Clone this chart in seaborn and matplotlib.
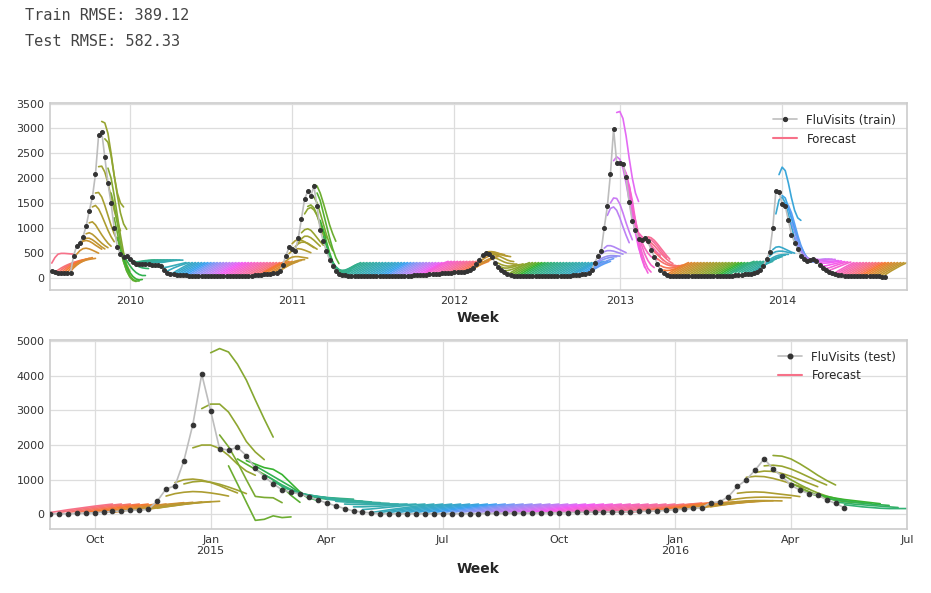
# Import libraries for data analysis
import pandas as pd

# Import libraries for visualization
import matplotlib
matplotlib.use("Agg")
import matplotlib.pyplot as plt
from matplotlib.lines import Line2D
import seaborn as sns

sns.set_theme(style="whitegrid")

# Weekly flu visits, train: weeks from 2009-07-06, test: weeks from 2014-08-25
train_visits = [
    # 2009 season
    140, 110, 90, 90, 90, 95, 100, 440, 640, 700, 820, 1030, 1340, 1610, 2080, 2860, 2930, 2420,
    1900, 1490, 990, 620, 470, 420, 430, 370, 320, 280,
    # 2010
    280, 270, 270, 265, 260, 255, 250, 222, 155, 100, 80, 70, 60, 54, 48, 44, 40,
    38, 36, 34, 33, 32, 30, 30, 28, 28, 27, 27, 26, 27, 28, 28, 30, 32, 34, 36,
    40, 45, 50, 55, 62, 70, 78, 88, 100, 121, 260,
    # 2011
    437, 605, 570, 537, 800, 1183, 1580, 1733, 1645, 1834, 1430, 961, 726, 527, 357, 222, 121, 80, 55, 45,
    38, 36, 35, 34, 33, 32, 30, 30, 29, 28, 28, 27, 27, 28, 28, 29, 30, 32, 34, 36, 38, 42, 46, 50, 55, 60,
    65, 70, 75, 80, 85, 90, 95, 100,
    # 2012
    105, 110, 115, 120, 130, 150, 200, 270, 360, 460, 490, 470, 420, 290, 220, 150, 110, 70, 50,
    40, 38, 36, 34, 32, 30, 30, 28, 27, 27, 26, 26, 27, 28, 29, 30, 32, 34, 38, 42, 48, 55, 65,
    80, 100, 150, 300, 437, 525, 1000, 1430, 2090, 2990,
    # 2013
    2310, 2300, 2280, 2020, 1510, 1130, 950, 780, 760, 800, 730, 560, 420, 280, 160, 90, 55, 40,
    35, 32, 30, 28, 27, 26, 25, 25, 24, 24, 25, 25, 26, 27, 28, 30, 32, 34, 37, 40, 44, 50, 56, 62, 70, 80,
    95, 120, 160, 230, 370, 510, 990, 1750,
    # 2014
    1720, 1480, 1440, 1150, 860, 700, 570, 440, 370, 340, 350, 370, 330, 260, 190, 150, 120, 90, 74, 60, 50, 40,
    35, 30, 28, 26, 25, 24, 24, 23, 22, 22, 21, 20, 20,
]

test_visits = [
    19, 20, 20, 29, 39, 49, 68, 87, 97, 117, 126, 145,
    380, 735, 825, 1550, 2590, 4040, 2985, 1890, 1860, 1930, 1695, 1325, 1087, 885, 710, 640, 590,
    500, 420, 330, 250, 170, 100, 68, 45, 22,
    20, 19, 19, 20, 20, 21, 21, 22, 22, 23, 24,
    28, 29, 30, 36, 38, 40, 45, 48, 50, 55, 58, 62, 66,
    70, 72, 75, 80, 87, 95, 98, 120, 140, 150, 175, 194,
    340, 359, 515, 806, 1000, 1282, 1602, 1311, 1097, 845, 700, 602, 563, 418, 320, 194,
]

# 8-week forecasts; key = first forecast week (index into the weekly series)
# Off-season forecasts all look alike on the chart: a climb back towards ~300
offseason_ramp = [55, 95, 135, 170, 205, 240, 270, 300]
late_ramp = [100, 140, 175, 210, 245, 275, 300, 325]
plateau_2010 = [300, 310, 320, 330, 340, 345, 350, 350]

train_forecasts = {
    0: [290, 400, 470, 485, 485, 480, 475, 470],
    1: [100, 150, 190, 225, 255, 280, 300, 320],
    2: [95, 150, 195, 235, 270, 300, 320, 340],
    3: [95, 155, 205, 250, 285, 315, 340, 355],
    4: [100, 165, 220, 265, 300, 330, 355, 370],
    5: [110, 180, 235, 280, 315, 345, 370, 385],
    6: [120, 195, 250, 295, 330, 360, 385, 400],
    7: [200, 260, 300, 330, 350, 365, 375, 385],
    8: [470, 540, 580, 590, 575, 550, 520, 490],
    9: [680, 730, 745, 730, 695, 650, 610, 570],
    10: [750, 790, 790, 760, 715, 665, 615, 575],
    11: [880, 900, 870, 815, 750, 690, 640, 600],
    12: [1100, 1120, 1060, 960, 860, 770, 690, 630],
    13: [1420, 1450, 1380, 1250, 1100, 950, 820, 720],
    14: [1700, 1710, 1620, 1450, 1250, 1050, 880, 750],
    15: [2230, 2240, 2120, 1900, 1620, 1350, 1120, 940],
    16: [3140, 3110, 2900, 2500, 2050, 1700, 1500, 1420],
    17: [2790, 2720, 2450, 2050, 1650, 1300, 1080, 970],
    18: [2200, 2000, 1650, 1250, 850, 500, 260, 120],
    19: [1700, 1450, 1100, 700, 400, 180, 40, -40],
    20: [1200, 900, 580, 320, 130, 10, -60, -80],
    21: [800, 560, 320, 140, 20, -40, -70, -70],
    22: [540, 370, 220, 100, 20, -30, -50, -40],
    23: [450, 340, 240, 160, 100, 60, 40, 40],
    24: [430, 360, 300, 250, 215, 195, 185, 180],
    25: [390, 345, 310, 285, 270, 260, 258, 258],
    36: [200, 210, 225, 240, 255, 270, 285, 300],
    37: [130, 160, 190, 215, 240, 260, 280, 300],
    73: [140, 180, 220, 255, 285, 310, 330, 345],
    74: [180, 230, 270, 300, 325, 345, 355, 360],
    75: [330, 380, 410, 420, 420, 410, 400, 390],
    76: [480, 540, 570, 580, 570, 550, 525, 500],
    77: [680, 740, 760, 750, 720, 680, 640, 600],
    78: [620, 680, 710, 710, 690, 650, 610, 570],
    79: [700, 780, 830, 830, 800, 750, 690, 630],
    80: [900, 960, 980, 950, 880, 800, 720, 650],
    81: [1280, 1380, 1410, 1360, 1250, 1100, 940, 800],
    82: [1430, 1460, 1400, 1250, 1050, 850, 650, 480],
    83: [1640, 1620, 1500, 1300, 1080, 860, 680, 540],
    84: [1870, 1840, 1700, 1500, 1280, 1060, 880, 730],
    85: [1700, 1550, 1300, 1050, 800, 580, 400, 280],
    86: [1150, 950, 720, 500, 320, 190, 110, 80],
    87: [820, 640, 460, 310, 190, 110, 70, 60],
    88: [560, 420, 300, 200, 130, 90, 80, 90],
    89: [400, 300, 220, 160, 120, 110, 120, 140],
    90: [260, 200, 160, 140, 140, 160, 185, 215],
    91: [160, 140, 140, 150, 175, 205, 240, 270],
    134: [150, 190, 230, 270, 300, 330, 350, 370],
    135: [170, 210, 250, 290, 320, 350, 370, 390],
    136: [210, 260, 300, 340, 370, 390, 410, 420],
    137: [300, 360, 400, 430, 450, 460, 460, 460],
    138: [400, 450, 480, 490, 490, 480, 470, 460],
    139: [500, 520, 520, 510, 490, 470, 450, 430],
    140: [500, 510, 500, 480, 460, 440, 430, 420],
    141: [470, 460, 440, 410, 380, 350, 330, 320],
    142: [400, 370, 340, 310, 290, 280, 270, 270],
    143: [290, 260, 240, 230, 230, 240, 250, 260],
    144: [210, 190, 190, 200, 215, 235, 255, 275],
    145: [140, 140, 155, 175, 200, 225, 250, 275],
    173: [150, 200, 240, 280, 310, 340, 360, 380],
    174: [250, 300, 340, 370, 390, 405, 415, 420],
    175: [330, 380, 410, 430, 440, 440, 435, 430],
    176: [470, 520, 540, 540, 530, 510, 490, 470],
    177: [590, 640, 640, 620, 590, 560, 530, 500],
    178: [1250, 1390, 1420, 1350, 1200, 1020, 850, 700],
    179: [1500, 1600, 1590, 1480, 1300, 1100, 920, 760],
    180: [2350, 2430, 2380, 2200, 1900, 1550, 1200, 900],
    181: [3320, 3340, 3200, 2850, 2400, 2000, 1700, 1530],
    182: [2300, 2250, 2000, 1650, 1250, 900, 600, 400],
    183: [2250, 2100, 1800, 1400, 1000, 650, 380, 200],
    184: [2100, 1850, 1450, 1050, 700, 420, 220, 90],
    185: [1850, 1550, 1150, 800, 520, 320, 180, 110],
    186: [1400, 1150, 880, 650, 470, 340, 250, 200],
    187: [1050, 880, 720, 590, 490, 420, 380, 360],
    188: [900, 830, 760, 690, 620, 560, 500, 450],
    189: [810, 780, 720, 650, 570, 490, 410, 340],
    190: [780, 790, 760, 700, 630, 550, 470, 400],
    191: [820, 800, 750, 680, 600, 520, 440, 370],
    192: [700, 640, 570, 500, 430, 370, 320, 280],
    193: [520, 460, 400, 350, 300, 270, 250, 240],
    194: [380, 330, 290, 260, 240, 230, 230, 240],
    195: [240, 210, 195, 190, 195, 210, 230, 250],
    196: [150, 140, 145, 160, 180, 205, 230, 255],
    225: [120, 170, 210, 250, 290, 320, 350, 370],
    226: [150, 200, 240, 280, 320, 350, 380, 400],
    227: [180, 230, 280, 320, 350, 380, 400, 420],
    228: [230, 280, 330, 370, 400, 420, 440, 450],
    229: [300, 360, 400, 430, 450, 460, 465, 465],
    230: [430, 490, 520, 530, 530, 520, 505, 490],
    231: [560, 610, 620, 600, 570, 540, 510, 490],
    232: [1280, 1560, 1620, 1500, 1280, 1020, 790, 600],
    233: [2070, 2220, 2150, 1900, 1600, 1350, 1200, 1150],
    234: [1650, 1600, 1420, 1200, 980, 780, 620, 500],
    235: [1500, 1400, 1200, 980, 780, 610, 480, 400],
    236: [1450, 1300, 1080, 850, 650, 500, 400, 340],
    237: [1100, 920, 740, 580, 460, 380, 330, 310],
    238: [820, 680, 550, 450, 380, 340, 320, 320],
    239: [650, 550, 460, 400, 360, 340, 330, 330],
    240: [520, 450, 400, 370, 350, 340, 340, 345],
    241: [420, 390, 370, 360, 360, 360, 365, 370],
    242: [380, 360, 350, 350, 355, 360, 365, 370],
    243: [370, 360, 355, 355, 360, 365, 370, 370],
    244: [380, 365, 355, 350, 350, 355, 360, 365],
    245: [360, 340, 330, 325, 325, 330, 335, 340],
    246: [300, 290, 290, 295, 305, 315, 325, 335],
    247: [230, 235, 250, 265, 280, 295, 310, 320],
    248: [180, 195, 215, 240, 260, 280, 300, 315],
    249: [140, 165, 190, 215, 240, 265, 290, 310],
}
for origin in range(26, 36):
    train_forecasts[origin] = plateau_2010
for origin in list(range(68, 73)) + list(range(120, 134)) + list(range(168, 173)) + list(range(218, 225)):
    train_forecasts[origin] = late_ramp

test_forecasts = {
    8: [110, 150, 190, 225, 260, 290, 315, 340],
    9: [120, 160, 200, 235, 270, 300, 325, 350],
    10: [130, 170, 210, 245, 280, 310, 335, 360],
    11: [150, 190, 225, 260, 295, 325, 350, 370],
    12: [180, 220, 255, 290, 320, 345, 365, 380],
    13: [530, 600, 640, 660, 650, 620, 580, 530],
    14: [920, 1000, 1020, 990, 920, 830, 720, 620],
    15: [880, 940, 960, 930, 870, 790, 700, 600],
    16: [1920, 2000, 2000, 1900, 1700, 1450, 1250, 1130],
    17: [3050, 3180, 3180, 2950, 2550, 2100, 1800, 1580],
    18: [4660, 4780, 4680, 4330, 3870, 3300, 2750, 2230],
    19: [2290, 1950, 1500, 1000, 520, 490, 480, 340],
    20: [1400, 880, 350, -170, -140, -40, -90, -70],
    21: [1600, 1450, 1300, 1150, 1000, 800, 550, 350],
    22: [1550, 1450, 1350, 1300, 1150, 900, 650, 450],
    23: [1400, 1250, 1100, 950, 800, 620, 480, 400],
    24: [1150, 1000, 850, 720, 620, 540, 480, 440],
    25: [950, 820, 700, 610, 540, 490, 460, 440],
    26: [800, 700, 620, 560, 510, 480, 460, 440],
    27: [680, 610, 560, 520, 490, 470, 455, 440],
    28: [600, 550, 510, 480, 450, 420, 400, 380],
    29: [560, 520, 480, 450, 420, 400, 380, 360],
    30: [500, 470, 440, 410, 390, 370, 350, 340],
    31: [440, 410, 390, 370, 350, 340, 330, 320],
    32: [380, 360, 340, 330, 320, 310, 305, 300],
    33: [300, 290, 285, 285, 285, 290, 295, 300],
    34: [220, 220, 230, 240, 255, 270, 285, 300],
    35: [140, 160, 185, 210, 235, 260, 280, 300],
    66: [100, 140, 180, 215, 250, 280, 305, 330],
    67: [110, 150, 190, 225, 260, 290, 315, 340],
    68: [115, 160, 200, 235, 270, 300, 325, 350],
    69: [120, 165, 205, 245, 280, 310, 335, 355],
    70: [150, 190, 225, 260, 290, 320, 345, 365],
    71: [160, 200, 235, 270, 300, 330, 355, 375],
    72: [170, 210, 250, 285, 315, 340, 360, 380],
    73: [190, 230, 270, 300, 330, 355, 375, 390],
    74: [220, 260, 295, 325, 350, 370, 385, 395],
    75: [300, 340, 370, 390, 400, 400, 395, 390],
    76: [410, 450, 480, 495, 500, 495, 490, 480],
    77: [610, 640, 650, 640, 610, 580, 550, 515],
    78: [1070, 1100, 1090, 1040, 970, 890, 810, 740],
    79: [1210, 1250, 1240, 1180, 1100, 1000, 900, 800],
    80: [1400, 1420, 1390, 1310, 1200, 1080, 960, 850],
    81: [1700, 1680, 1600, 1460, 1300, 1130, 980, 850],
    82: [1150, 1000, 860, 730, 620, 530, 460, 410],
    83: [900, 780, 660, 560, 480, 420, 380, 350],
    84: [720, 620, 540, 470, 420, 380, 360, 340],
    85: [620, 540, 470, 420, 380, 350, 330, 320],
    86: [580, 520, 470, 430, 400, 370, 340, 310],
    87: [460, 420, 390, 360, 330, 300, 280, 260],
    88: [360, 330, 300, 280, 260, 240, 220, 200],
    89: [280, 250, 220, 200, 180, 170, 170, 170],
}

train_start = "2009-07-06"
test_start = "2014-08-25"

# Tick positions = the week holding the 1st of the year / quarter
train_tick_weeks = ["2009-12-28", "2010-12-27", "2011-12-26", "2012-12-31", "2013-12-30"]
train_tick_labels = ["2010", "2011", "2012", "2013", "2014"]
test_tick_weeks = ["2014-09-29", "2014-12-29", "2015-03-30", "2015-06-29",
                   "2015-09-28", "2015-12-28", "2016-03-28", "2016-06-27"]
test_tick_labels = ["Oct", "Jan\n2015", "Apr", "Jul", "Oct", "Jan\n2016", "Apr", "Jul"]

rmse_lines = ["Train RMSE: 389.12", "Test RMSE: 582.33"]

HUSL = sns.color_palette("husl", 64)
HORIZON = 8


def forecast_frame(weeks, visits, forecasts):
    """
    Long table of every 8-week forecast, one line per forecast origin
    """
    rows = []
    for origin in range(len(visits)):
        values = forecasts.get(origin, offseason_ramp)
        for step in range(HORIZON):
            rows.append({"Week": weeks[origin + step], "FluVisits": values[step], "origin": origin})
    return pd.DataFrame(rows)


def draw_panel(ax, start, visits, forecasts, label, ticks, tick_labels, y_ticks, marker_size, lead_days):
    weeks = pd.date_range(start, periods=len(visits) + HORIZON - 1, freq="7D")
    fc = forecast_frame(weeks, visits, forecasts)
    palette = {o: HUSL[o % 64] for o in fc["origin"].unique()}

    sns.lineplot(data=fc, x="Week", y="FluVisits", hue="origin", palette=palette,
                 estimator=None, legend=False, linewidth=1.2, ax=ax)
    sns.lineplot(x=weeks[:len(visits)], y=visits, color="#bdbdbd", linewidth=1.2,
                 marker="o", markersize=marker_size, markerfacecolor="#333333",
                 markeredgecolor="#333333", zorder=5, ax=ax)

    ax.set_xlim(weeks[0] - pd.Timedelta(days=lead_days), weeks[-1])
    ax.set_xticks(pd.to_datetime(ticks))
    ax.set_xticklabels(tick_labels)
    ax.set_yticks(y_ticks)
    ax.set_ylabel("")
    ax.set_xlabel("Week", fontweight="bold", fontsize=10, color="#262626")
    ax.tick_params(labelsize=8, colors="#333333", length=0, pad=4)
    ax.grid(color="#dddddd", linewidth=0.9)
    for spine in ax.spines.values():
        spine.set_color("#cccccc")
        spine.set_linewidth(1.2)

    handles = [Line2D([], [], color="#bdbdbd", linewidth=1.2, marker="o", markersize=marker_size,
                      markerfacecolor="#333333", markeredgecolor="#333333"),
               Line2D([], [], color=HUSL[0], linewidth=1.5)]
    ax.legend(handles, [label, "Forecast"], loc="upper right", frameon=False, fontsize=8.5)


fig = plt.figure(figsize=(9.31, 5.93), dpi=100)
ax_train = fig.add_axes([0.0537, 0.511, 0.9205, 0.3153])
ax_test = fig.add_axes([0.0537, 0.108, 0.9205, 0.3187])

draw_panel(ax_train, train_start, train_visits, train_forecasts, "FluVisits (train)",
           train_tick_weeks, train_tick_labels, range(0, 3501, 500), 2.8, 4)
draw_panel(ax_test, test_start, test_visits, test_forecasts, "FluVisits (test)",
           test_tick_weeks, test_tick_labels, range(0, 5001, 1000), 3.3, 0)

for i, line in enumerate(rmse_lines):
    fig.text(25 / 931, 1 - (15 + 26 * i) / 593, line, family="DejaVu Sans Mono",
             fontsize=11, color="#444444", va="center", ha="left")

plt.savefig("out.png", dpi=100)
